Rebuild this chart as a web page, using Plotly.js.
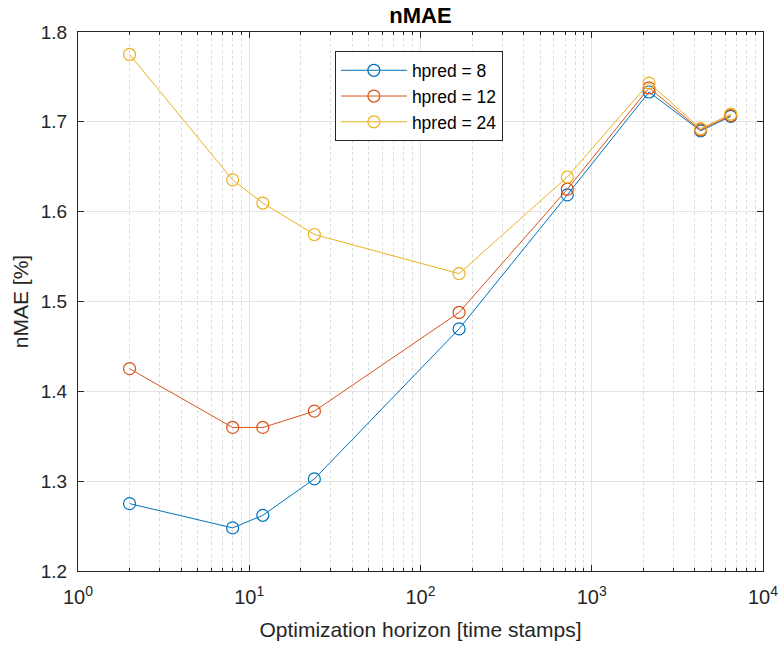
<!DOCTYPE html>
<html>
<head>
<meta charset="utf-8">
<script src="https://cdn.plot.ly/plotly-3.0.1.min.js"></script>
<style>
html,body{margin:0;padding:0;background:#fff;}
#chart{width:784px;height:650px;}
</style>
</head>
<body>
<div id="chart"></div>
<script>
// Data
const horizon = [2, 8, 12, 24, 168, 720, 2160, 4320, 6480];
const hpred8  = [1.2750, 1.2480, 1.2620, 1.3025, 1.4695, 1.6187, 1.7332, 1.6900, 1.7060];
const hpred12 = [1.4252, 1.3598, 1.3598, 1.3779, 1.4878, 1.6250, 1.7377, 1.6910, 1.7070];
const hpred24 = [1.7750, 1.6354, 1.6096, 1.5746, 1.5310, 1.6386, 1.7432, 1.6925, 1.7085];
const seriesNames = ['hpred = 8', 'hpred = 12', 'hpred = 24'];
const xTickVals = [1, 10, 100, 1000, 10000];
const xTickText = ['10<sup>0</sup>', '10<sup>1</sup>', '10<sup>2</sup>', '10<sup>3</sup>', '10<sup>4</sup>'];
const xMinorVals = [];
for (const d of [1, 10, 100, 1000]) for (let k = 2; k <= 9; k++) xMinorVals.push(k * d);

const colors = ['#0072BD', '#D95319', '#EDB120'];
const font = 'Liberation Sans, Arial, Helvetica, sans-serif';

const traces = [hpred8, hpred12, hpred24].map((ys, i) => ({
  x: horizon, y: ys, name: seriesNames[i],
  type: 'scatter', mode: 'lines+markers',
  line: {color: colors[i], width: 1},
  marker: {symbol: 'circle-open', size: 12, color: colors[i], line: {width: 1.2, color: colors[i]}}
}));

const layout = {
  width: 784, height: 650,
  margin: {l: 78, r: 21, t: 32, b: 79},
  paper_bgcolor: '#fff', plot_bgcolor: '#fff',
  font: {family: font, color: '#262626', size: 18},
  title: {text: '<b>nMAE</b>', x: 0.5, xref: 'paper', y: 1 - 15/650, yref: 'container', yanchor: 'middle',
          font: {family: font, size: 22, color: '#000'}},
  xaxis: {
    type: 'log', range: [0, 4],
    tickmode: 'array', tickvals: xTickVals, ticktext: xTickText,
    tickfont: {size: 20, color: '#262626'}, ticklabelstandoff: 8,
    showline: true, linecolor: '#262626', linewidth: 1, mirror: 'ticks',
    ticks: 'inside', ticklen: 6, tickcolor: '#262626',
    showgrid: true, gridcolor: '#e3e3e3', gridwidth: 1,
    zeroline: false,
    minor: {tickmode: 'array', tickvals: xMinorVals, ticks: 'inside', ticklen: 3, tickcolor: '#262626',
            showgrid: true, gridcolor: '#dcdcdc', griddash: 'dot', gridwidth: 1},
    title: {text: 'Optimization horizon [time stamps]', font: {size: 21, color: '#262626'}, standoff: 15}
  },
  yaxis: {
    range: [1.2, 1.8], dtick: 0.1, tick0: 1.2, tickformat: '.1f',
    tickfont: {size: 19, color: '#262626'}, ticklabelstandoff: 6,
    showline: true, linecolor: '#262626', linewidth: 1, mirror: 'ticks',
    ticks: 'inside', ticklen: 6, tickcolor: '#262626',
    showgrid: true, gridcolor: '#e3e3e3', gridwidth: 1,
    zeroline: false,
    title: {text: 'nMAE [%]', font: {size: 21, color: '#262626'}, standoff: 6}
  },
  showlegend: true,
  legend: {
    x: 0.375, y: 0.964, xanchor: 'left', yanchor: 'top',
    bgcolor: '#fff', bordercolor: '#262626', borderwidth: 1,
    font: {size: 17.5, color: '#000'}, itemwidth: 66, tracegroupgap: 0
  }
};

Plotly.newPlot('chart', traces, layout, {displayModeBar: false, staticPlot: true});
</script>
</body>
</html>
